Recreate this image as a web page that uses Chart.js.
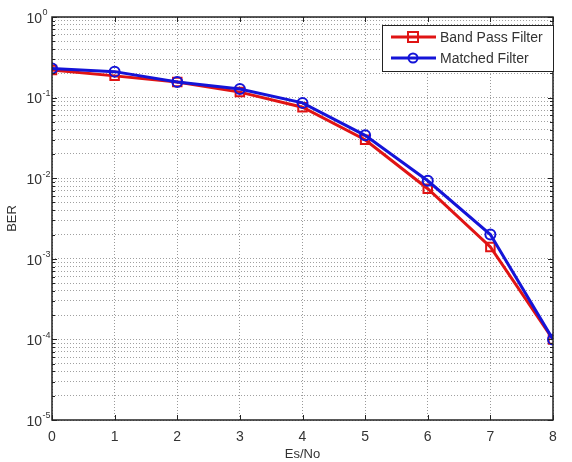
<!DOCTYPE html>
<html>
<head>
<meta charset="utf-8">
<script src="https://cdn.jsdelivr.net/npm/chart.js@4"></script>
<style>
  html, body { margin: 0; padding: 0; background: #fff; }
  #wrap { width: 572px; height: 462px; }
</style>
</head>
<body>
<div id="wrap"><canvas id="ber-chart" width="572" height="462"></canvas></div>
<script>
const esNo = [0, 1, 2, 3, 4, 5, 6, 7, 8];
const bandPass = [0.22, 0.186, 0.156, 0.117, 0.076, 0.030, 0.0074, 0.0014, 0.0001];
const matched = [0.23, 0.21, 0.156, 0.128, 0.086, 0.034, 0.0093, 0.0020, 0.0001];
const yExponents = [0, -1, -2, -3, -4, -5];
const seriesNames = ['Band Pass Filter', 'Matched Filter'];

const FONT = '"Liberation Sans", Arial, sans-serif';

function toPoints(ys) {
    return esNo.map((x, i) => ({ x: x, y: ys[i] }));
}

// frame, inner ticks, 10^n labels and the boxed legend, MATLAB style
const matlabFrame = {
    id: 'matlabFrame',
    afterDraw(chart) {
        const ctx = chart.ctx;
        const a = chart.chartArea;
        const xs = chart.scales.x;
        const ys = chart.scales.y;
        ctx.save();

        // tick marks on the inside of the box
        ctx.strokeStyle = '#222';
        ctx.lineWidth = 1;
        ctx.beginPath();
        esNo.forEach(v => {
            const px = Math.round(xs.getPixelForValue(v)) + 0.5;
            ctx.moveTo(px, a.bottom); ctx.lineTo(px, a.bottom - 5);
            ctx.moveTo(px, a.top); ctx.lineTo(px, a.top + 5);
        });
        ys.ticks.forEach(t => {
            const py = Math.round(ys.getPixelForValue(t.value)) + 0.5;
            const len = Math.abs(Math.log10(t.value) % 1) < 1e-6 ? 5 : 3;
            ctx.moveTo(a.left, py); ctx.lineTo(a.left + len, py);
            ctx.moveTo(a.right, py); ctx.lineTo(a.right - len, py);
        });
        ctx.stroke();

        ctx.lineWidth = 1.5;
        ctx.strokeRect(a.left, a.top, a.right - a.left, a.bottom - a.top);

        // y labels with real superscripts
        ctx.fillStyle = '#333';
        ctx.textBaseline = 'middle';
        yExponents.forEach(e => {
            const py = ys.getPixelForValue(Math.pow(10, e));
            ctx.font = '14px ' + FONT;
            ctx.textAlign = 'right';
            ctx.fillText('10', 42, py + 2);
            ctx.font = '9px ' + FONT;
            ctx.textAlign = 'left';
            ctx.fillText(String(e), 42.5, py - 4);
        });

        // legend box
        const bx = 382, by = 25, bw = 171, bh = 46;
        ctx.fillStyle = '#fff';
        ctx.fillRect(bx, by, bw, bh);
        ctx.strokeStyle = '#222';
        ctx.lineWidth = 1;
        ctx.strokeRect(bx + 0.5, by + 0.5, bw, bh);
        ctx.font = '14px ' + FONT;
        ctx.textAlign = 'left';
        ctx.textBaseline = 'middle';
        chart.data.datasets.forEach((ds, i) => {
            const y = by + 12 + i * 21;
            ctx.strokeStyle = ds.borderColor;
            ctx.lineWidth = 3;
            ctx.beginPath();
            ctx.moveTo(bx + 9, y);
            ctx.lineTo(bx + 54, y);
            ctx.stroke();
            ctx.lineWidth = 2;
            ctx.beginPath();
            if (ds.pointStyle === 'rect') {
                ctx.rect(bx + 26, y - 5, 10, 10);
            } else {
                ctx.arc(bx + 31, y, 4.5, 0, Math.PI * 2);
            }
            ctx.stroke();
            ctx.fillStyle = '#333';
            ctx.fillText(seriesNames[i], bx + 58, y + 1);
        });
        ctx.restore();
    }
};

const gridDash = [1, 2];

new Chart(document.getElementById('ber-chart').getContext('2d'), {
    type: 'line',
    data: {
        datasets: [{
            label: seriesNames[0],
            data: toPoints(bandPass),
            borderColor: '#e01414',
            backgroundColor: 'rgba(0,0,0,0)',
            borderWidth: 3,
            pointStyle: 'rect',
            pointRadius: 6,
            pointBorderWidth: 2,
            pointBackgroundColor: 'rgba(0,0,0,0)',
            tension: 0,
            order: 1
        }, {
            label: seriesNames[1],
            data: toPoints(matched),
            borderColor: '#1414d8',
            backgroundColor: 'rgba(0,0,0,0)',
            borderWidth: 3,
            pointStyle: 'circle',
            pointRadius: 5,
            pointBorderWidth: 2,
            pointBackgroundColor: 'rgba(0,0,0,0)',
            tension: 0,
            order: 0
        }]
    },
    options: {
        responsive: false,
        animation: false,
        layout: { padding: { top: 17, right: 19, left: 0, bottom: 0 } },
        plugins: { legend: { display: false }, tooltip: { enabled: false } },
        scales: {
            x: {
                type: 'linear',
                min: 0,
                max: 8,
                ticks: {
                    stepSize: 1,
                    color: '#333',
                    font: { family: FONT, size: 14 },
                    padding: 9
                },
                grid: { color: '#999', drawTicks: false },
                border: { display: false, dash: gridDash },
                title: {
                    display: true,
                    text: 'Es/No',
                    color: '#333',
                    font: { family: FONT, size: 13 },
                    padding: 0
                },
                afterFit(scale) { scale.height = 42; }
            },
            y: {
                type: 'logarithmic',
                min: 1e-5,
                max: 1,
                ticks: {
                    autoSkip: false,
                    display: false
                },
                afterBuildTicks(scale) {
                    const ticks = [];
                    for (let e = -5; e <= 0; e++) {
                        for (let m = 1; m <= 9; m++) {
                            const v = Number((m * Math.pow(10, e)).toPrecision(3));
                            if (v <= 1) ticks.push({ value: v });
                        }
                    }
                    scale.ticks = ticks;
                },
                grid: { color: '#a0a0a0', drawTicks: false },
                border: { display: false, dash: gridDash },
                title: {
                    display: true,
                    text: 'BER',
                    color: '#333',
                    font: { family: FONT, size: 13 },
                    padding: { top: 5, bottom: 0 }
                },
                afterFit(scale) { scale.width = 52; }
            }
        }
    },
    plugins: [matlabFrame]
});
</script>
</body>
</html>
